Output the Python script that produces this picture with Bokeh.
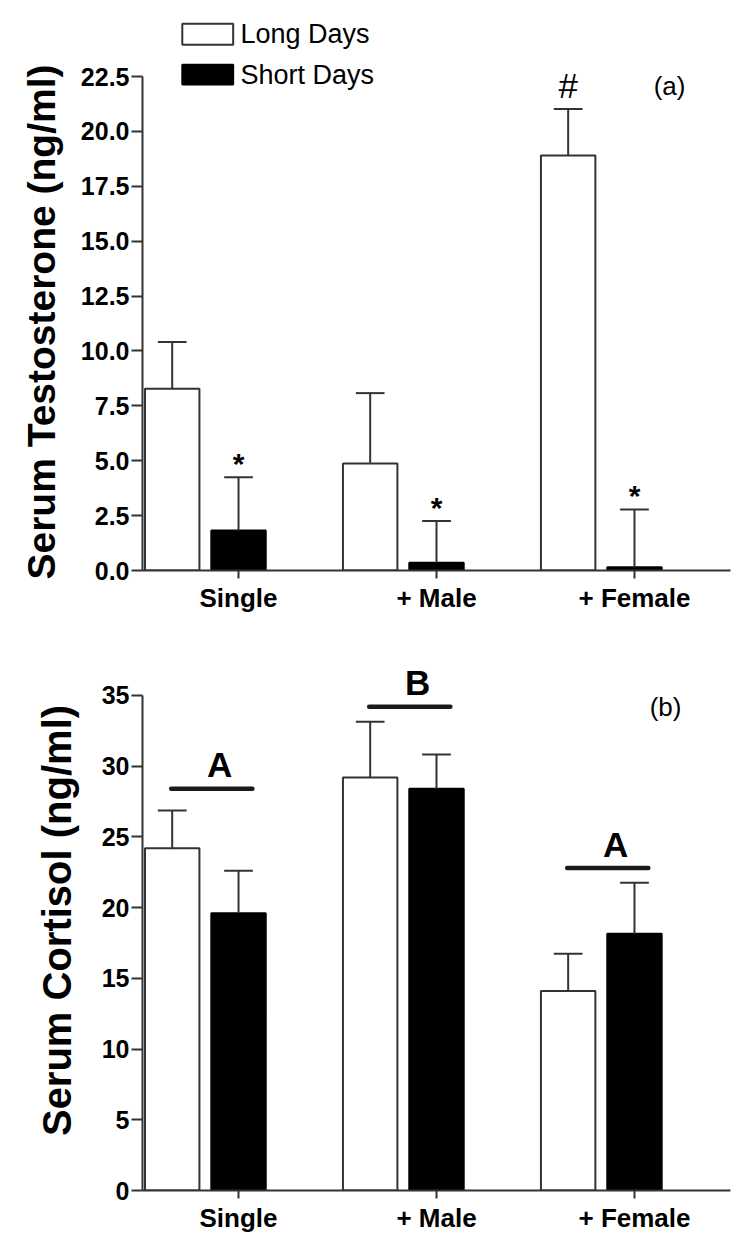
from bokeh.plotting import figure
from bokeh.models import Range1d, FixedTicker, PrintfTickFormatter
from bokeh.layouts import column
from bokeh.embed import file_html
from bokeh.resources import INLINE
from bokeh.core.properties import value

# ---------------- data ----------------
categories = ["Single", "+ Male", "+ Female"]
series_names = ["Long Days", "Short Days"]

# (a) Serum testosterone (ng/ml): mean and SEM
testo_long = [8.28, 4.87, 18.9]
testo_long_sem = [2.13, 3.21, 2.12]
testo_short = [1.82, 0.35, 0.15]
testo_short_sem = [2.43, 1.90, 2.63]
testo_long_marks = ["", "", "#"]
testo_short_marks = ["*", "*", "*"]
testo_ticks = [0.0, 2.5, 5.0, 7.5, 10.0, 12.5, 15.0, 17.5, 20.0, 22.5]
testo_ylabel = "Serum Testosterone (ng/ml)"

# (b) Serum cortisol (ng/ml): mean and SEM
cort_long = [24.2, 29.2, 14.1]
cort_long_sem = [2.67, 3.95, 2.64]
cort_short = [19.6, 28.4, 18.15]
cort_short_sem = [3.0, 2.43, 3.61]
cort_groups = ["A", "B", "A"]
cort_group_level = [28.4, 34.2, 22.8]
cort_ticks = [0, 5, 10, 15, 20, 25, 30, 35]
cort_ylabel = "Serum Cortisol (ng/ml)"

# ---------------- style ----------------
FONT = "Liberation Sans"
EDGE = "#333333"
BAR_W = 0.275
LONG_SHIFT = -0.335
CAP_W = 0.145
X_START, X_END = -0.485, 2.485
W = 745
NBSP = "\u00a0"


def base_panel(height, ymax, axis_top, ticks, top_border, bottom_border,
               ylabel, label_size, label_standoff):
    p = figure(width=W, height=height,
               x_range=Range1d(X_START, X_END), y_range=Range1d(0, ymax),
               output_backend="svg", toolbar_location=None,
               min_border_left=142, min_border_right=W - 730,
               min_border_top=top_border, min_border_bottom=bottom_border)
    p.outline_line_color = None
    p.xgrid.visible = False
    p.ygrid.visible = False
    p.background_fill_color = "white"
    p.border_fill_color = "white"

    xa = p.xaxis[0]
    xa.ticker = FixedTicker(ticks=[0, 1, 2])
    xa.major_label_overrides = {i: c for i, c in enumerate(categories)}
    xa.axis_line_color = EDGE
    xa.axis_line_width = 2
    xa.major_tick_line_color = EDGE
    xa.major_tick_line_width = 2
    xa.major_tick_out = 8
    xa.major_tick_in = 0
    xa.minor_tick_line_color = None
    xa.major_label_text_font = FONT
    xa.major_label_text_font_style = "bold"
    xa.major_label_text_font_size = "26px"
    xa.major_label_text_color = "black"
    xa.major_label_standoff = 4

    ya = p.yaxis[0]
    ya.bounds = (0, axis_top)
    ya.ticker = FixedTicker(ticks=ticks)
    ya.axis_line_color = EDGE
    ya.axis_line_width = 2
    ya.major_tick_line_color = EDGE
    ya.major_tick_line_width = 2
    ya.major_tick_out = 11
    ya.major_tick_in = 0
    ya.minor_tick_line_color = None
    ya.major_label_text_font = FONT
    ya.major_label_text_font_style = "bold"
    ya.major_label_text_font_size = "25px"
    ya.major_label_text_color = "black"
    ya.major_label_standoff = 2
    ya.axis_label = ylabel
    ya.axis_label_text_font = FONT
    ya.axis_label_text_font_style = "bold"
    ya.axis_label_text_font_size = label_size
    ya.axis_label_text_color = "black"
    ya.axis_label_standoff = label_standoff
    return p


def draw_bars(p, long_vals, long_sem, short_vals, short_sem):
    xs = [float(i) for i in range(len(categories))]
    xl = [x + LONG_SHIFT for x in xs]
    p.vbar(x=xl, top=long_vals, width=BAR_W, bottom=0,
           fill_color="white", line_color=EDGE, line_width=2)
    p.vbar(x=xs, top=short_vals, width=BAR_W, bottom=0,
           fill_color="black", line_color="black", line_width=2)
    for xpos, vals, sems in ((xl, long_vals, long_sem), (xs, short_vals, short_sem)):
        tops = [v + e for v, e in zip(vals, sems)]
        p.segment(x0=xpos, y0=vals, x1=xpos, y1=tops, line_color=EDGE, line_width=2)
        p.segment(x0=[x - CAP_W / 2 for x in xpos], y0=tops,
                  x1=[x + CAP_W / 2 for x in xpos], y1=tops,
                  line_color=EDGE, line_width=2)
    return xs, xl


# ---------------- panel (a) ----------------
# trailing no-break spaces shift the centred axis title down onto the 0-22.5 axis
pa = base_panel(620, 25.6, 22.5, testo_ticks, 8, 50,
                testo_ylabel + NBSP * 6, "39px", 15)
pa.yaxis[0].formatter = PrintfTickFormatter(format="%.1f")
xs, xl = draw_bars(pa, testo_long, testo_long_sem, testo_short, testo_short_sem)

pa.text(x=xs, y=[v + e for v, e in zip(testo_short, testo_short_sem)],
        text=testo_short_marks, text_align="center", text_baseline="middle",
        y_offset=-14, text_font=value(FONT), text_font_style="bold",
        text_font_size="30px", text_color="black")
pa.text(x=xl, y=[v + e for v, e in zip(testo_long, testo_long_sem)],
        text=testo_long_marks, text_align="center", text_baseline="middle",
        y_offset=-24, text_font=value(FONT), text_font_size="35px", text_color="black")

pa.text(x=[2.177], y=[22.05], text=["(a)"], text_align="center",
        text_baseline="middle", text_font=value(FONT),
        text_font_size="26px", text_color="black")

# legend
pa.quad(left=[-0.284, -0.284], right=[-0.027, -0.027],
        top=[24.907, 23.04], bottom=[23.95, 22.14],
        fill_color=["white", "black"], line_color=[EDGE, "black"], line_width=2)
pa.text(x=[0.01, 0.01], y=[24.43, 22.59], text=series_names,
        text_align="left", text_baseline="middle", text_font=value(FONT),
        text_font_size="27px", text_color="black")

# ---------------- panel (b) ----------------
pb = base_panel(620, 38.18, 35, cort_ticks, 30, 50,
                cort_ylabel, "40px", 20)
xs, xl = draw_bars(pb, cort_long, cort_long_sem, cort_short, cort_short_sem)

pb.segment(x0=[x - 0.34 for x in xs], y0=cort_group_level,
           x1=[x + 0.07 for x in xs], y1=cort_group_level,
           line_color="#1a1a1a", line_width=4.5, line_cap="round")
pb.text(x=[x - 0.095 for x in xs], y=cort_group_level, text=cort_groups,
        text_align="center", text_baseline="middle", y_offset=-24,
        text_font=value(FONT), text_font_style="bold", text_font_size="35px",
        text_color="black")

pb.text(x=[2.157], y=[34.2], text=["(b)"], text_align="center",
        text_baseline="middle", text_font=value(FONT),
        text_font_size="26px", text_color="black")

layout = column(pa, pb, spacing=0)
open("out.html", "w").write(file_html(layout, INLINE))
